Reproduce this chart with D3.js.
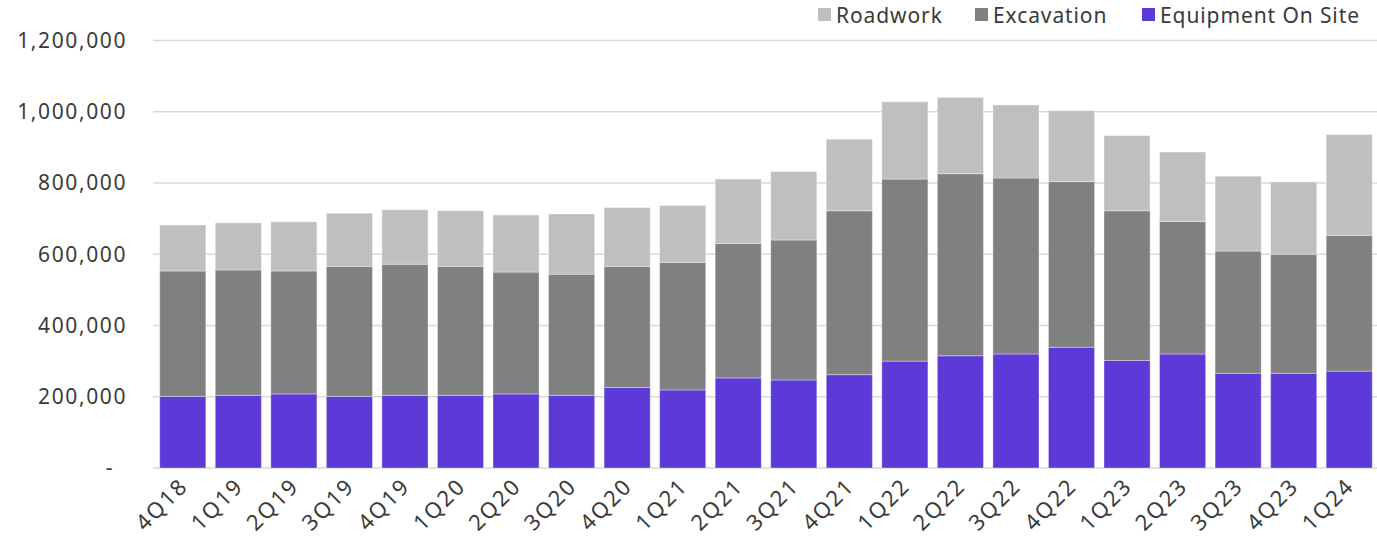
<!DOCTYPE html>
<html>
<head>
<meta charset="utf-8">
<script src="https://cdn.jsdelivr.net/npm/d3@7"></script>
<style>
  body { margin: 0; background: #ffffff; }
  svg text { font-family: "Noto Sans", sans-serif; fill: #3a3a3a; }
</style>
</head>
<body>
<div id="chart"></div>
<script>
const quarters   = ["4Q18","1Q19","2Q19","3Q19","4Q19","1Q20","2Q20","3Q20","4Q20","1Q21","2Q21","3Q21","4Q21","1Q22","2Q22","3Q22","4Q22","1Q23","2Q23","3Q23","4Q23","1Q24"];
const equipment  = [201000,204000,208000,201000,204000,204000,208000,204000,226000,219000,253000,247000,262000,300000,315000,320000,339000,302000,320000,266000,266000,272000];
const excavation = [352000,352000,345000,365000,368000,362000,342000,340000,340000,358000,377000,393000,460000,511000,511000,494000,465000,420000,372000,343000,334000,381000];
const roadwork   = [129000,132000,138000,149000,153000,156000,160000,169000,165000,160000,181000,192000,201000,217000,214000,205000,199000,211000,195000,210000,203000,283000];
const yTicks     = [0,200000,400000,600000,800000,1000000,1200000];
const seriesKeys = ["equipment","excavation","roadwork"];
const seriesName = { equipment: "Equipment On Site", excavation: "Excavation", roadwork: "Roadwork" };
const seriesCol  = { equipment: "#5d3ad7", excavation: "#808080", roadwork: "#bfbfbf" };

const W = 1377, H = 544;

const rows = quarters.map((q, i) => ({ q: q, equipment: equipment[i], excavation: excavation[i], roadwork: roadwork[i] }));

const svg = d3.select("#chart").append("svg")
  .attr("width", W).attr("height", H);

const x = d3.scaleBand().domain(quarters).range([155, 1377]).paddingInner(0.17).paddingOuter(0.085);
const y = d3.scaleLinear().domain([0, 1200000]).range([468, 40.5]);

// gridlines
svg.append("g").selectAll("line")
  .data(yTicks)
  .enter().append("line")
    .attr("x1", 153).attr("x2", W)
    .attr("y1", d => y(d)).attr("y2", d => y(d))
    .attr("stroke", "#d9d9d9").attr("stroke-width", 1.5);

// y labels
const fmt = d3.format(",");
svg.append("g").selectAll("text")
  .data(yTicks)
  .enter().append("text")
    .attr("x", d => d === 0 ? 114 : 127)
    .attr("y", d => y(d))
    .attr("dy", "0.35em")
    .attr("text-anchor", "end")
    .style("font-size", "21px")
    .style("letter-spacing", "1.6px")
    .text(d => d === 0 ? "-" : fmt(d));

// stacked bars
const stacked = d3.stack().keys(seriesKeys)(rows);
svg.append("g").selectAll("g")
  .data(stacked)
  .enter().append("g")
    .attr("fill", d => seriesCol[d.key])
  .selectAll("rect")
  .data(d => d)
  .enter().append("rect")
    .attr("x", d => x(d.data.q))
    .attr("width", x.bandwidth())
    .attr("y", d => y(d[1]))
    .attr("height", d => y(d[0]) - y(d[1]))
    .attr("stroke", "#ffffff")
    .attr("stroke-opacity", 0.35)
    .attr("stroke-width", 1);

// x labels, rotated
svg.append("g").selectAll("text")
  .data(quarters)
  .enter().append("text")
    .attr("transform", d => "translate(" + (x(d) + x.bandwidth() / 2 + 1) + ",482) rotate(-45)")
    .attr("text-anchor", "end")
    .attr("dy", "0.35em")
    .style("font-size", "22px")
    .style("letter-spacing", "2px")
    .text(d => d);

// legend (top right)
const legendOrder = ["roadwork","excavation","equipment"];
const legendX = { roadwork: 818, excavation: 975, equipment: 1142 };
const lg = svg.append("g").attr("class", "legend");
legendOrder.forEach(k => {
  const gx = legendX[k];
  lg.append("rect")
    .attr("x", gx).attr("y", 8).attr("width", 13).attr("height", 13)
    .attr("fill", seriesCol[k]);
  lg.append("text")
    .attr("x", gx + 18).attr("y", 23)
    .style("font-size", "21px")
    .style("letter-spacing", "0.9px")
    .text(seriesName[k]);
});
</script>
</body>
</html>
